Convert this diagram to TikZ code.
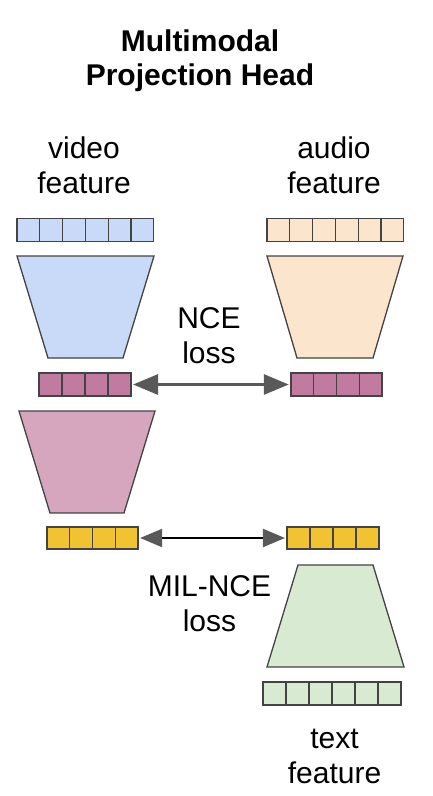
\documentclass[tikz,border=0pt]{standalone}
\usepackage{fontspec}
\setmainfont{Liberation Sans}
\usetikzlibrary{arrows.meta}

\definecolor{videoblue}{HTML}{C9DAF8}
\definecolor{audiopeach}{HTML}{FCE5CD}
\definecolor{embpurple}{HTML}{C27BA0}
\definecolor{headpink}{HTML}{D5A6BD}
\definecolor{jointyellow}{HTML}{F1C232}
\definecolor{textgreen}{HTML}{D9EAD3}
\definecolor{edgegray}{HTML}{434343}
\definecolor{arrowgray}{HTML}{595959}

\begin{document}
\begin{tikzpicture}[x=1pt,y=-1pt]
        \tikzstyle{cell}=[rectangle, draw=edgegray, line width=1.3pt, inner sep=0pt, minimum width=22.8pt, minimum height=23pt]
        \tikzstyle{proj}=[draw=edgegray, line width=1.3pt]
        \tikzstyle{label}=[align=center, inner sep=0pt, font=\fontsize{30}{35}\selectfont]

            \useasboundingbox (0,0) rectangle (432,796);

            % titles and feature labels
            \node[label, font=\fontsize{30}{34}\selectfont\bfseries](title) at (200,61){Multimodal\\Projection Head};
            \node[label](vlab) at (84,165){video\\feature};
            \node[label](alab) at (334,165){audio\\feature};
            \node[label](nce) at (209,336){NCE\\loss};
            \node[label](mil) at (209.5,604){MIL-NCE\\loss};
            \node[label](tlab) at (334.5,756){text\\feature};

            % input feature vectors
            \foreach \i in {1,...,6}
            \node[cell, fill=videoblue](v\i) at (5.6+22.8*\i,230){};
            \foreach \i in {1,...,6}
            \node[cell, fill=audiopeach](a\i) at (255.6+22.8*\i,230){};
            \foreach \i in {1,...,6}
            \node[cell, fill=textgreen](t\i) at (251.5+23*\i,693.5){};

            % projection heads
            \filldraw[proj, fill=videoblue] (17,256) -- (154,256) -- (123,358) -- (48,358) -- cycle;
            \filldraw[proj, fill=audiopeach] (267,256) -- (403,256) -- (373,358) -- (297,358) -- cycle;
            \filldraw[proj, fill=headpink] (19,411) -- (155,411) -- (124,513) -- (50,513) -- cycle;
            \filldraw[proj, fill=textgreen] (298,565) -- (373,565) -- (404,667) -- (267,667) -- cycle;

            % embeddings
            \foreach \i in {1,...,4}
            \node[cell, fill=embpurple](p\i) at (27.5+23*\i,384.5){};
            \foreach \i in {1,...,4}
            \node[cell, fill=embpurple](q\i) at (279.6+22.75*\i,384.5){};
            \foreach \i in {1,...,4}
            \node[cell, fill=jointyellow, minimum height=22pt](y\i) at (35.6+22.75*\i,538){};
            \foreach \i in {1,...,4}
            \node[cell, fill=jointyellow, minimum height=22pt](z\i) at (275.5+23*\i,538){};

            \draw[arrowgray, line width=3pt, {Triangle[width=20pt,length=25pt]}-{Triangle[width=20pt,length=25pt]}, shorten <=1.5pt, shorten >=1.5pt] (p4) -- (q1);
            \draw[black, line width=2.2pt, {Triangle[width=18pt,length=22pt,color=arrowgray]}-{Triangle[width=18pt,length=22pt,color=arrowgray]}, shorten <=1.5pt, shorten >=1.5pt] (y4) -- (z1);

        \end{tikzpicture}
\end{document}
